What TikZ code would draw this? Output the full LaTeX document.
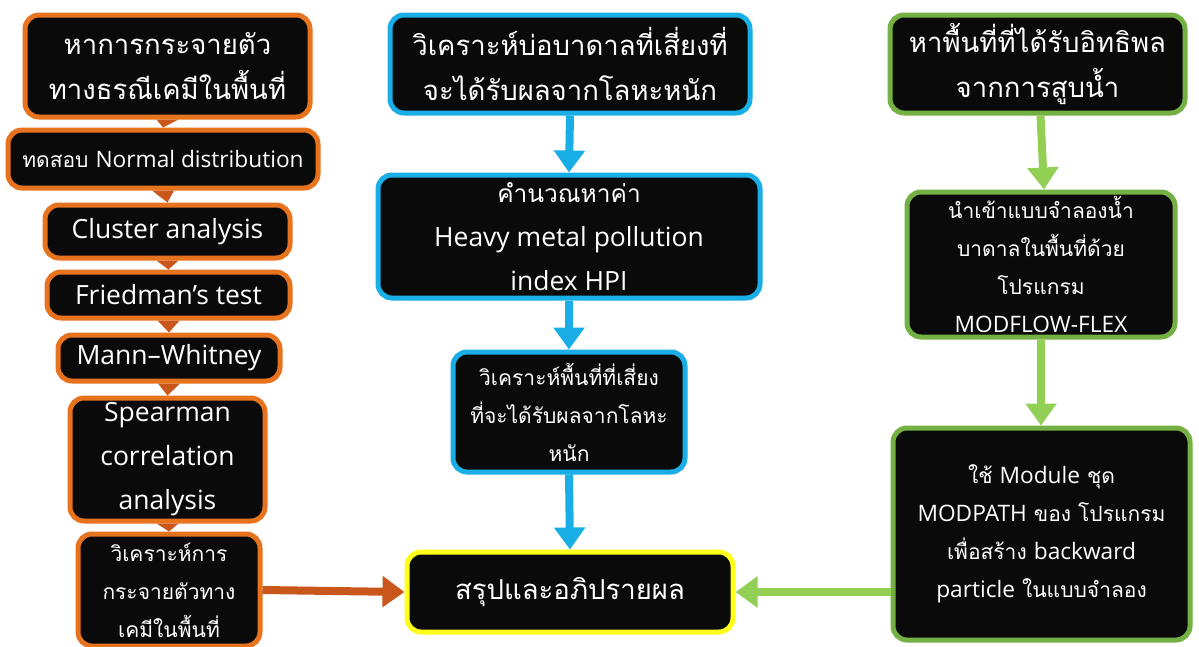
\documentclass[tikz,border=0pt]{standalone}
\usepackage{fontspec}
\setmainfont[Script=Thai]{Loma}
\newfontfamily\enfont[Scale=1.08]{Open Sans}
\newcommand{\en}[1]{{\enfont #1}}
\usetikzlibrary{arrows.meta}
\definecolor{orng}{HTML}{E8731F}
\definecolor{orngarr}{HTML}{C9561A}
\definecolor{blu}{HTML}{1AAEE6}
\definecolor{grn}{HTML}{74B043}
\definecolor{grnarr}{HTML}{92CF55}
\definecolor{yel}{HTML}{FFFF1A}
\definecolor{boxfill}{HTML}{0A0A0A}
\tikzset{
  box/.style={fill=boxfill, line width=5pt, rounded corners=14pt, text=white, align=center, inner sep=0pt},
  obox/.style={box, draw=orng},
  bbox/.style={box, draw=blu},
  gbox/.style={box, draw=grn},
  ybox/.style={box, draw=yel},
  arr/.style={line width=8pt, -{Triangle[width=30pt,length=22pt]}},
  fA/.style={font=\fontsize{27.5}{45}\selectfont},
  fB/.style={font=\fontsize{24.5}{44}\selectfont},
  fC/.style={font=\fontsize{21}{38}\selectfont},
}
\begin{document}
\begin{tikzpicture}[x=1pt,y=-1pt]
\useasboundingbox[fill=white] (0,0) rectangle (1199,646);
% left column
\node[obox,fA,minimum width=285pt,minimum height=102pt] (l1) at (167.5,66) {หาการกระจายตัว\\ทางธรณีเคมีในพื้นที่};
\node[obox,fC,minimum width=310pt,minimum height=58pt] (l2) at (163,159) {ทดสอบ \en{Normal distribution}};
\node[obox,fB,minimum width=245pt,minimum height=53pt] (l3) at (167.5,231.5) {\en{Cluster analysis}};
\node[obox,fB,minimum width=243pt,minimum height=46pt] (l4) at (168.5,295) {\en{Friedman’s test}};
\node[obox,fB,minimum width=222pt,minimum height=46pt] (l5) at (169,358) {\en{Mann–Whitney}};
\node[obox,fB,minimum width=195pt,minimum height=123pt] (l6) at (167.5,459.5) {\en{Spearman}\\\en{correlation}\\\en{analysis}};
\node[obox,fC,minimum width=182pt,minimum height=112pt] (l7) at (169,590) {วิเคราะห์การ\\กระจายตัวทาง\\เคมีในพื้นที่};
\foreach \a/\b in {l1/l2,l2/l3,l3/l4,l4/l5,l5/l6,l6/l7}{
  \fill[orngarr] ([xshift=-11pt]\a.south) -- ([xshift=11pt]\a.south) -- (\b.north) -- cycle;
}
% center column
\node[bbox,fA,minimum width=360pt,minimum height=98pt] (c1) at (570,64) {วิเคราะห์บ่อบาดาลที่เสี่ยงที่\\จะได้รับผลจากโลหะหนัก};
\node[bbox,fB,minimum width=382pt,minimum height=123pt] (c2) at (569,236.5) {คำนวณหาค่า\\\en{Heavy metal pollution}\\\en{index HPI}};
\node[bbox,fC,minimum width=232pt,minimum height=120pt] (c3) at (569,412) {วิเคราะห์พื้นที่ที่เสี่ยง\\ที่จะได้รับผลจากโลหะ\\หนัก};
\node[ybox,fA,minimum width=326pt,minimum height=80pt] (s) at (570,592) {สรุปและอภิปรายผล};
% right column
\node[gbox,fA,minimum width=295pt,minimum height=98pt] (r1) at (1037.5,64) {หาพื้นที่ที่ได้รับอิทธิพล\\จากการสูบน้ำ};
\node[gbox,fC,minimum width=268pt,minimum height=145pt] (r2) at (1041,264.5) {นำเข้าแบบจำลองน้ำ\\บาดาลในพื้นที่ด้วย\\โปรแกรม\\\en{MODFLOW-FLEX}};
\node[gbox,fC,minimum width=297pt,minimum height=212pt] (r3) at (1041.5,534) {ใช้ \en{Module} ชุด\\\en{MODPATH} ของ โปรแกรม\\เพื่อสร้าง \en{backward}\\\en{particle} ในแบบจำลอง};
\coordinate (g) at ([yshift=-58pt]r3.west);
% connectors
\draw[arr,blu] (c1.south) -- (c2.north);
\draw[arr,blu] (c2.south) -- (c3.north);
\draw[arr,blu] (c3.south) -- (s.north);
\draw[arr,grnarr] ([xshift=3pt]r1.south) -- ([xshift=3pt]r2.north);
\draw[arr,grnarr] (r2.south) -- ([xshift=-0.5pt]r3.north);
\draw[arr,orngarr] (l7.east) -- (s.west);
\draw[arr,grnarr] (g) -- (g -| s.east);
\end{tikzpicture}
\end{document}
